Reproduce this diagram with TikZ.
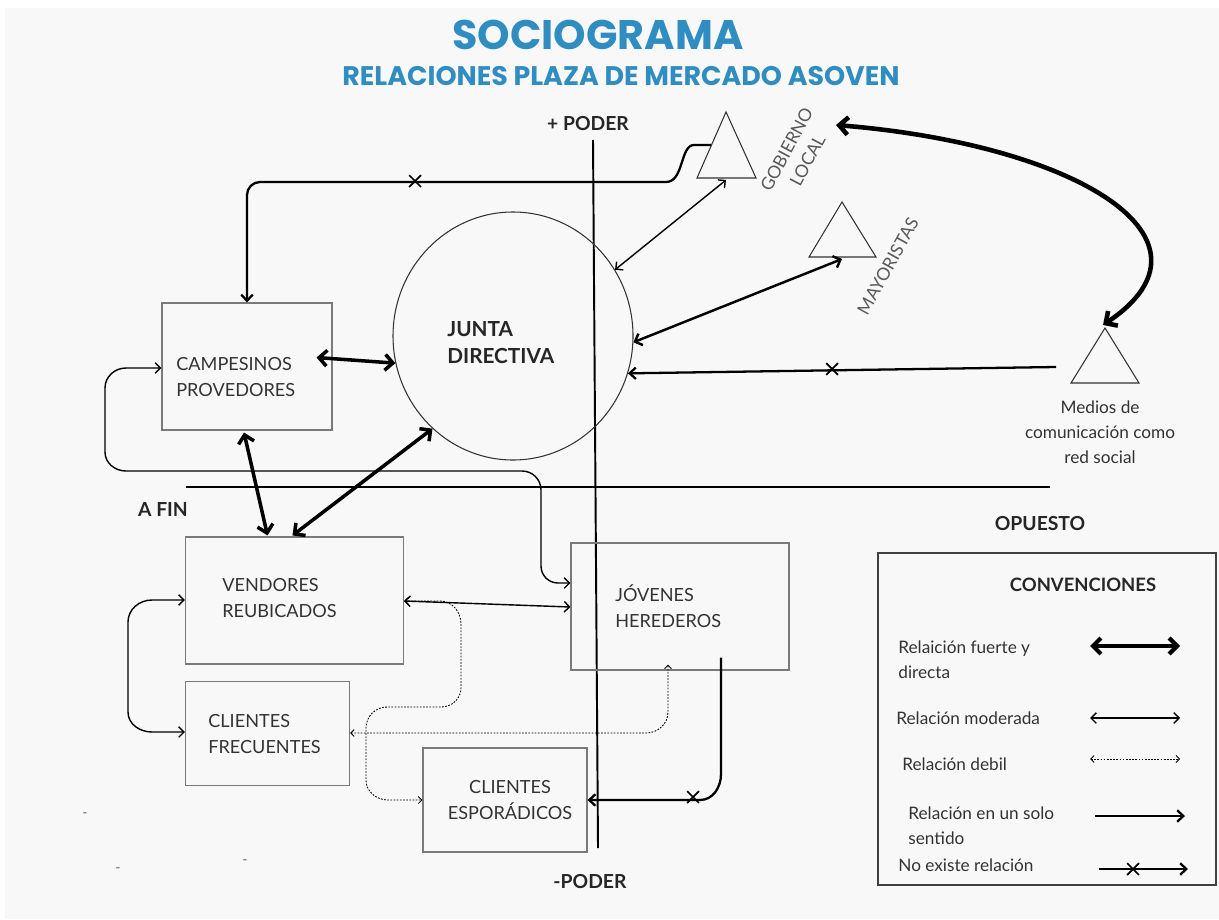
\documentclass[tikz,border=0pt]{standalone}
\usepackage{fontspec}
\setmainfont{Lato}
\newfontfamily\titlefont{Poppins}
\usetikzlibrary{arrows.meta,shapes.geometric,shapes.misc,calc}
\definecolor{bggray}{HTML}{F8F8F8}
\definecolor{titleblue}{HTML}{2F8DC2}
\definecolor{boxgray}{HTML}{7A7A7A}
\definecolor{txtgray}{HTML}{333333}
\begin{document}
\begin{tikzpicture}[x=0.02cm,y=-0.02cm,
  box/.style={draw=boxgray, line width=0.6pt, inner sep=0pt},
  lbl/.style={font=\fontsize{10.3}{14.7}\selectfont, text=txtgray, inner sep=0pt, align=left},
  hdr/.style={font=\fontsize{11}{13}\selectfont\bfseries, text=black!85, inner sep=0pt},
  rot/.style={font=\fontsize{10}{13.5}\selectfont, text=black!65, inner sep=0pt, align=center},
  leg/.style={font=\fontsize{9.8}{14.2}\selectfont, text=txtgray, inner sep=0pt, align=left, anchor=west},
  strong/.style={line width=2pt, arrows={Straight Barb[length=4.5pt,width=9pt]-Straight Barb[length=4.5pt,width=9pt]}},
  medstrong/.style={line width=1.4pt, arrows={Straight Barb[length=3.5pt,width=7pt]-Straight Barb[length=3.5pt,width=7pt]}},
  moderate/.style={line width=0.8pt, arrows={Straight Barb[length=3pt,width=6pt]-Straight Barb[length=3pt,width=6pt]}},
  weak/.style={line width=0.5pt, dash pattern=on 1pt off 0.8pt, arrows={Straight Barb[length=2pt,width=4pt]-Straight Barb[length=2pt,width=4pt]}},
  oneway/.style={line width=1.3pt, arrows={-Straight Barb[length=3.5pt,width=6.5pt]}},
  xmk/.style={draw, cross out, line width=1pt, minimum size=10*0.02cm, inner sep=0pt},
  tri/.style={draw=black!80, line width=0.6pt}
]
\useasboundingbox (0,0) rectangle (1219,919);
\fill[white] (0,0) rectangle (1219,919);
\fill[bggray] (5,8) rectangle (1219,919);

% titles
\node[font=\titlefont\bfseries\fontsize{23.5}{28}\selectfont, text=titleblue, inner sep=0pt] (title) at (598,35) {SOCIOGRAMA};
\node[font=\titlefont\bfseries\fontsize{15.3}{18}\selectfont, text=titleblue, inner sep=0pt] (subtitle) at (621,76) {RELACIONES PLAZA DE MERCADO ASOVEN};

% axes
\node[hdr] (pmas) at (588,124) {+ PODER};
\node[hdr] (pmenos) at (590,881) {-PODER};
\node[hdr] (afin) at (163,510) {A FIN};
\node[hdr] (opuesto) at (1040,524) {OPUESTO};
\coordinate (ptop) at (593,140);
\coordinate (pbot) at (598,848);
\draw[line width=1.1pt] (ptop) -- (pbot);
\coordinate (hleft) at (186,487);
\coordinate (hright) at (1050,487);
\draw[line width=1.1pt] (hleft) -- (hright);

% triangles
\draw[tri] (726,112) coordinate (gobA) -- (756,178) -- (697,178) -- cycle;
\draw[tri] (842,202) coordinate (mayA) -- (876,257) -- (809,257) -- cycle;
\draw[tri] (1105,328) coordinate (medA) -- (1139,383) -- (1071,383) -- cycle;
\node[rot, rotate=62] (gobtxt) at (797,155) {GOBIERNO\\LOCAL};
\node[rot, rotate=61] (maytxt) at (888,266) {MAYORISTAS};
\node[lbl, align=center, font=\fontsize{9.8}{14.2}\selectfont] (medtxt) at (1100,432) {Medios de\\comunicación como\\red social};

% junta
\node[draw=black!80, line width=0.6pt, ellipse, minimum width=240*0.02cm, minimum height=248*0.02cm, inner sep=0pt] (junta) at (513,336) {};
\node[lbl, anchor=west, font=\fontsize{11.8}{15.3}\selectfont\bfseries, text=black!85] (juntatxt) at (447,343) {JUNTA\\DIRECTIVA};

% boxes
\node[box, minimum width=170*0.02cm, minimum height=127*0.02cm] (camp) at (247,366.5) {};
\node[lbl, anchor=west] (camptxt) at (176,377) {CAMPESINOS\\PROVEDORES};
\node[box, minimum width=218*0.02cm, minimum height=127*0.02cm] (vend) at (294.5,600.5) {};
\node[lbl, anchor=west] (vendtxt) at (222,598) {VENDORES\\REUBICADOS};
\node[box, minimum width=164*0.02cm, minimum height=104*0.02cm] (frec) at (267.5,733.5) {};
\node[lbl, anchor=west] (frectxt) at (208,734) {CLIENTES\\FRECUENTES};
\node[box, minimum width=164*0.02cm, minimum height=104*0.02cm] (espo) at (505,800) {};
\node[lbl, align=center] (espotxt) at (510,800) {CLIENTES\\ESPORÁDICOS};
\node[box, minimum width=218*0.02cm, minimum height=127*0.02cm] (jov) at (680,606.5) {};
\node[lbl, anchor=west] (jovtxt) at (615,606) {JÓVENES\\HEREDEROS};

% connector endpoints
\coordinate (gobL) at (711,145);
\coordinate (gobB) at (726,180);
\coordinate (gobT) at (836,125);
\coordinate (mayB) at (842,259);
\coordinate (medL) at (1056,367);
\coordinate (medTop) at (1103,325);

% Gobierno -> Campesinos (no relation)
\draw[oneway] (gobL) -- (694,145) .. controls (680,145) and (684,182) .. (666,182) -- (260,182) to[out=180,in=90] (247,195) -- (camp.north);
\node[xmk] (x1) at (415,181) {};

% Gobierno <-> Junta
\draw[moderate] (gobB) -- (junta.33);
% Mayoristas <-> Junta
\draw[medstrong] (mayB) -- (junta.-3);
% Medios <-> Gobierno
\draw[line width=2.6pt, arrows={Straight Barb[length=5pt,width=10pt]-Straight Barb[length=5pt,width=10pt]}] (gobT) .. controls (1080,145) and (1230,240) .. (medTop);
% Medios -> Junta (no relation)
\draw[oneway] (medL) -- (junta.-18);
\node[xmk] (x2) at (832,369) {};

% Campesinos <-> Junta
\draw[strong] ($(camp.east)+(-16,-9)$) -- (junta.193);
% Campesinos <-> Vendores
\draw[strong] ($(camp.south)+(-3,2)$) -- ($(vend.north)+(-27,-1)$);
% Junta <-> Vendores
\draw[strong] (junta.229) -- ($(vend.north)+(-2,-1)$);

% Campesinos <-> Jovenes loop
\draw[moderate] ($(camp.west)+(0,1.5)$) -- (126,368) to[out=180,in=90] (105,388) -- (105,452) to[out=-90,in=180] (126,471) -- (522,471) to[out=0,in=90] (541,490) -- (541,566) to[out=-90,in=180] (558,583) -- ($(jov.west)+(0,-23.5)$);

% Vendores <-> Jovenes
\draw[moderate] ($(vend.east)+(0,0.5)$) -- ($(jov.west)+(0,0.5)$);

% Vendores <-> Frecuentes loop
\draw[moderate] ($(vend.west)+(0,-0.5)$) -- (152,600) to[out=180,in=90] (128,622) -- (128,712) to[out=-90,in=180] (152,732) -- ($(frec.west)+(0,-1.5)$);

% Vendores <-> Esporadicos (weak)
\draw[weak] ($(vend.east)+(0,0.5)$) -- (440,601) to[out=0,in=90] (461,624) -- (461,688) to[out=-90,in=0] (441,707) -- (387,707) to[out=180,in=90] (366,728) -- (366,780) to[out=-90,in=180] (388,800) -- (espo.west);

% Jovenes <-> Frecuentes (weak)
\draw[weak] ($(jov.south)+(-12,-6)$) -- (668,712) to[out=-90,in=0] (646,733) -- ($(frec.east)+(0,-0.5)$);

% Jovenes -> Esporadicos (no relation)
\draw[oneway] ($(jov.south)+(41,-13)$) -- (721,774) to[out=-90,in=0] (700,800) -- (espo.east);
\node[xmk] (x3) at (693,797) {};

% stray marks
\node[text=black!60, inner sep=0pt, font=\fontsize{8}{8}\selectfont] (d1) at (85,815) {-};
\node[text=black!60, inner sep=0pt, font=\fontsize{8}{8}\selectfont] (d2) at (118,870) {-};
\node[text=black!60, inner sep=0pt, font=\fontsize{8}{8}\selectfont] (d3) at (245,862) {-};

% legend
\node[draw=black!75, line width=0.6pt, minimum width=338*0.02cm, minimum height=332*0.02cm, inner sep=0pt] (legend) at (1047,719) {};
\node[hdr, font=\fontsize{10.5}{13}\selectfont\bfseries] (conv) at (1083,585) {CONVENCIONES};
\node[leg] (l1) at (898,660) {Relaición fuerte y\\directa};
\node[leg] (l2) at (896,718) {Relación moderada};
\node[leg] (l3) at (902,764) {Relación debil};
\node[leg] (l4) at (908,826) {Relación en un solo\\sentido};
\node[leg] (l5) at (898,865) {No existe relación};
\coordinate (l1a) at (1090,646); \coordinate (l1b) at (1180,646);
\coordinate (l2a) at (1090,718); \coordinate (l2b) at (1180,718);
\coordinate (l3a) at (1090,759); \coordinate (l3b) at (1180,759);
\coordinate (l4a) at (1095,816); \coordinate (l4b) at (1185,816);
\coordinate (l5a) at (1099,869); \coordinate (l5b) at (1188,869);
\draw[line width=2.4pt, arrows={Straight Barb[length=4.5pt,width=9pt]-Straight Barb[length=4.5pt,width=9pt]}] (l1a) -- (l1b);
\draw[moderate] (l2a) -- (l2b);
\draw[weak] (l3a) -- (l3b);
\draw[oneway] (l4a) -- (l4b);
\draw[oneway] (l5a) -- (l5b);
\node[xmk] (x4) at (1133,869) {};
\end{tikzpicture}
\end{document}
